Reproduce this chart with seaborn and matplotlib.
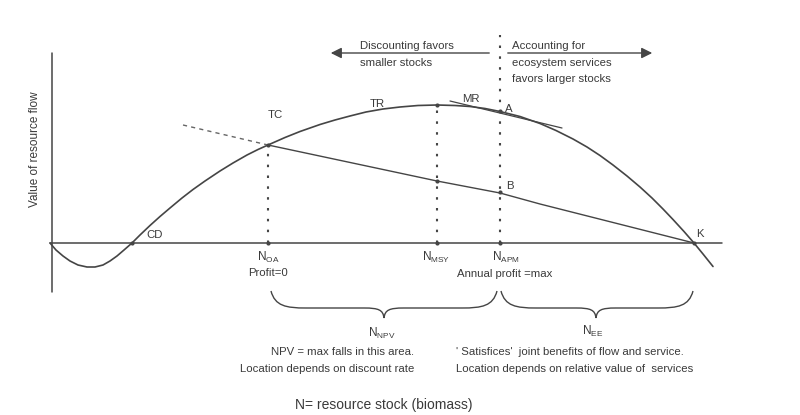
import matplotlib
matplotlib.use("Agg")
import matplotlib.pyplot as plt
import seaborn as sns
import pandas as pd
from matplotlib.path import Path
from matplotlib.patches import PathPatch

# ---------------- data (N = stock, V = value of resource flow) ----------------
stock_N = [50, 56, 63, 70, 78, 87, 95, 103, 110, 117, 124, 132, 140, 150, 160, 170,
           182, 193, 205, 220, 233, 247, 258, 268, 285, 300, 320, 335, 350, 366, 383,
           400, 418, 437, 455, 470, 485, 500, 520, 540, 556, 573, 587, 600, 613, 627,
           640, 652, 663, 673, 684, 694, 703, 713]
flow_V = [0, -7, -13, -18, -22, -24, -24, -22, -18, -13, -7, 0, 8, 17.5, 26.5, 35,
          45, 53.5, 62, 72, 80, 88, 93.5, 98, 105.5, 111.5, 118.5, 123, 127, 131, 134,
          136, 137.5, 138, 137.5, 136.5, 134.5, 131.5, 126.5, 119.5, 112.5, 104, 96, 87.5, 78, 67,
          56, 45, 34, 23.5, 11.5, 0, -11, -23.5]

tc_N = [183, 268, 437, 500, 540, 694]
tc_V = [118, 98, 62, 50, 39, 0]

mr_N = [450, 562]
mr_V = [142, 115]

N_OA, N_MSY, N_APM, N_CD, N_K = 268, 437, 500, 132, 694
V_TC, V_MSY, V_A, V_B = 98, 138, 131.5, 51

# ---------------- styling ----------------
sns.set_theme(style="white")
plt.rcParams["font.family"] = ["Liberation Sans", "DejaVu Sans"]
INK = "#454545"
TXT = "#3a3a3a"

fig = plt.figure(figsize=(8, 4.15), dpi=100)
ax = fig.add_axes([0, 0, 1, 1])
ax.set_xlim(0, 800)
ax.set_ylim(-172, 243)
ax.axis("off")

def Y(py):
    return 243 - py

# axes lines
ax.plot([52, 52], [Y(292), Y(53)], color=INK, lw=1.1)
ax.plot([50, 722], [0, 0], color=INK, lw=1.1)

curve = pd.DataFrame({"N": stock_N, "V": flow_V})
sns.lineplot(data=curve, x="N", y="V", sort=False, color=INK, lw=1.2, ax=ax)

tc = pd.DataFrame({"N": tc_N, "V": tc_V})
sns.lineplot(data=tc.iloc[:2], x="N", y="V", sort=False, color="#666666", lw=1.0,
             ls=(0, (3, 3)), ax=ax)
sns.lineplot(data=tc.iloc[1:], x="N", y="V", sort=False, color=INK, lw=1.0, ax=ax)

ax.plot(mr_N, mr_V, color=INK, lw=0.9)

# vertical dotted lines
dot = (0, (1.2, 4))
ax.plot([N_OA, N_OA], [0, V_TC], color=INK, lw=1.5, ls=dot)
ax.plot([N_MSY, N_MSY], [0, V_MSY], color=INK, lw=1.5, ls=dot)
ax.plot([N_APM, N_APM], [0, Y(35)], color=INK, lw=1.5, ls=dot)

# points
px = [N_OA, N_MSY, N_APM, N_APM, N_APM, N_MSY, N_CD, N_K, N_OA, N_MSY]
py = [V_TC, V_MSY, V_A, V_B, 0, 0, 0, 0, 0, 62]
ax.scatter(px, py, s=9, color=INK, zorder=5, linewidths=0)

# top arrows
ax.annotate("", xy=(328, Y(53)), xytext=(492, Y(53)),
            arrowprops=dict(arrowstyle="-|>", color=INK, lw=1.0, mutation_scale=16))
ax.annotate("", xy=(655, Y(53)), xytext=(505, Y(53)),
            arrowprops=dict(arrowstyle="-|>", color=INK, lw=1.0, mutation_scale=16))

fs = 8.2
def T(x, py_, s, size=fs, ha="center", va="center", **kw):
    ax.text(x, Y(py_), s, fontsize=size, ha=ha, va=va, color=TXT, **kw)

T(360, 46, "Discounting favors", ha="left")
T(360, 63, "smaller stocks", ha="left")
T(512, 46, "Accounting for", ha="left")
T(512, 63, "ecosystem services", ha="left")
T(512, 79, "favors larger stocks", ha="left")

T(275, 115, "TC")
T(377, 104, "TR")
T(471, 99, "MR")
T(509, 109, "A")
T(510, 186, "B")
T(155, 235, "CD")
T(700, 234, "K")

T(N_OA, 257, r"N$_{\mathregular{OA}}$", size=8.5)
T(N_OA, 273, "Profit=0")
T(N_MSY - 1, 257, r"N$_{\mathregular{MSY}}$", size=8.5)
T(N_APM + 6, 257, r"N$_{\mathregular{APM}}$", size=8.5)
T(505, 274, "Annual profit =max")

# braces
def brace(x0, x1, xt, ytop, ybase, ytip):
    yt, yb, yp = Y(ytop), Y(ybase), Y(ytip)
    verts = [(x0, yt), (x0 + 4, yb + 2), (x0 + 15, yb), (x0 + 35, yb),
             (xt - 20, yb), (xt - 5, yb), (xt - 1, yb - 2), (xt, yp),
             (xt + 1, yb - 2), (xt + 5, yb), (xt + 20, yb),
             (x1 - 35, yb), (x1 - 15, yb), (x1 - 4, yb + 2), (x1, yt)]
    codes = [Path.MOVETO, Path.CURVE4, Path.CURVE4, Path.CURVE4,
             Path.LINETO, Path.CURVE4, Path.CURVE4, Path.CURVE4,
             Path.CURVE4, Path.CURVE4, Path.CURVE4,
             Path.LINETO, Path.CURVE4, Path.CURVE4, Path.CURVE4]
    ax.add_patch(PathPatch(Path(verts, codes), fill=False, ec=INK, lw=1.0))

brace(271, 497, 384, 291, 308, 318)
brace(501, 693, 596, 291, 308, 318)

T(382, 333, r"N$_{\mathregular{NPV}}$", size=8.5)
T(593, 331, r"N$_{\mathregular{EE}}$", size=8.5)
T(414, 352, "NPV = max falls in this area.", ha="right")
T(414, 369, "Location depends on discount rate", ha="right")
T(456, 352, "' Satisfices'  joint benefits of flow and service.", ha="left")
T(456, 369, "Location depends on relative value of  services", ha="left")

T(384, 405, "N= resource stock (biomass)", size=10)
ax.text(35, Y(149), "Value of resource flow", rotation=90, fontsize=8.5,
        ha="center", va="center", color=TXT)

fig.savefig("out.png", dpi=100, facecolor="white")
